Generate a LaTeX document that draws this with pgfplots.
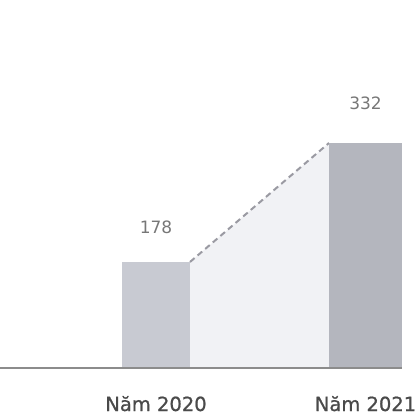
\documentclass[border=0pt]{standalone}
\usepackage{fontspec}
\setmainfont{DejaVu Sans}
\newfontfamily\labelfont[FakeBold=0.9]{DejaVu Sans}
\usepackage{pgfplots}
\pgfplotsset{compat=1.18}

\definecolor{barA}{HTML}{C8CAD2}
\definecolor{barB}{HTML}{B4B6BE}
\definecolor{gapfill}{HTML}{F1F2F5}
\definecolor{dashgray}{HTML}{9A9AA2}
\definecolor{basegray}{HTML}{8C8C8C}
\definecolor{labelgray}{HTML}{4A4A4A}
\definecolor{numgray}{HTML}{777777}

\begin{document}
\begin{tikzpicture}
\useasboundingbox (0,-49pt) rectangle (420pt,368pt);
\begin{axis}[
    at={(0,0)}, anchor=south west,
    scale only axis,
    width=402pt, height=368pt,
    xmin=-0.7446, xmax=1.1742,
    ymin=40.8, ymax=517,
    axis y line=none,
    axis x line=bottom,
    axis on top,
    x axis line style={-, color=basegray, line width=1.5pt},
    major tick length=0pt,
    xtick={0,1},
    xticklabels={Năm 2020, Năm 2021},
    xticklabel style={anchor=base, yshift=-43pt, font=\labelfont\fontsize{19.5}{24}\selectfont, text=labelgray},
    ytick=\empty,
    /pgf/number format/assume math mode=true,
    clip=true,
]
% light area between the two bars
\addplot[fill=gapfill, draw=none] coordinates {(0.1623,178) (0.8258,332)} \closedcycle;
% dashed connector
\addplot[dashgray, line width=2pt, dash pattern=on 6pt off 4pt] coordinates {(0.1623,178) (0.8258,332)};
% bars
\addplot[ybar, bar width=0.325, fill=barA, draw=none,
    nodes near coords,
    every node near coord/.append style={anchor=center, yshift=35pt, text=numgray, font=\fontsize{17}{20}\selectfont}]
    coordinates {(0,178)};
\addplot[ybar, bar width=0.348, fill=barB, draw=none,
    nodes near coords,
    every node near coord/.append style={anchor=center, yshift=40pt, text=numgray, font=\fontsize{17}{20}\selectfont}]
    coordinates {(1,332)};
\end{axis}
\end{tikzpicture}
\end{document}
